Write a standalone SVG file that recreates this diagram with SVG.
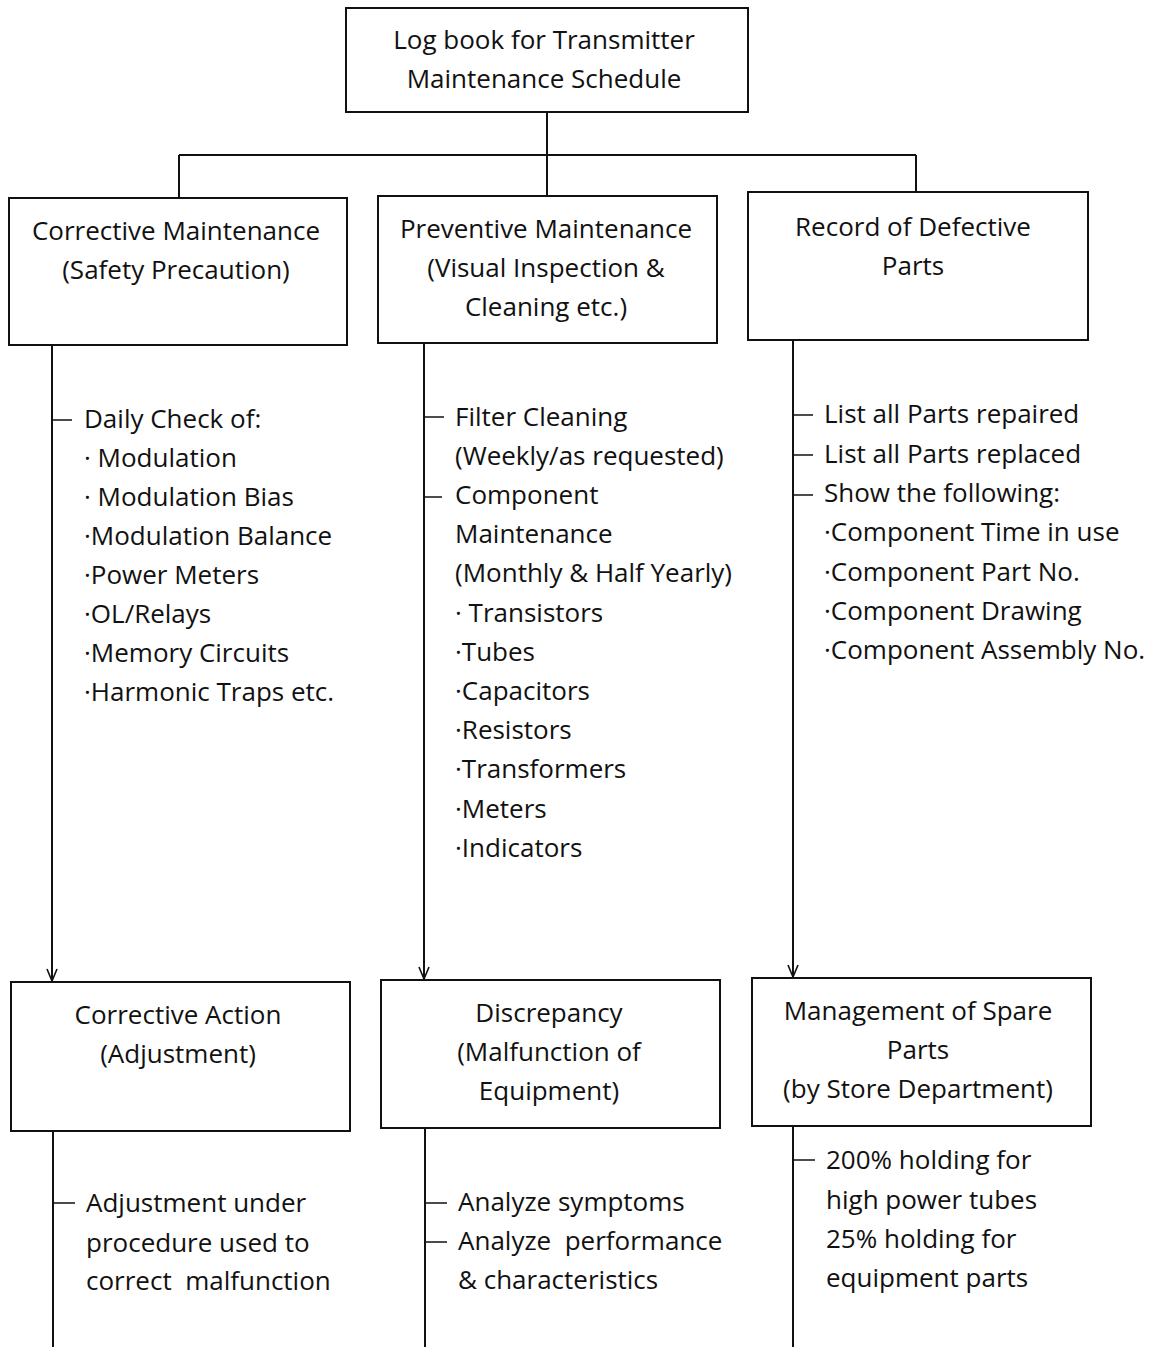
<svg xmlns="http://www.w3.org/2000/svg" width="1152" height="1347" viewBox="0 0 1152 1347">
  <style>
    .box { fill: #ffffff; stroke: #111111; stroke-width: 2; }
    .wire { fill: none; stroke: #111111; stroke-width: 2; }
    .tick { fill: none; stroke: #111111; stroke-width: 1.5; }
    text { font-family: "Open Sans", "Noto Sans", "Liberation Sans", sans-serif; font-size: 26px; fill: #111111; }
    .c { text-anchor: middle; }
  </style>
  <defs>
    <!-- open chevron head; drawn along +x so orient="auto" turns it to the line -->
    <marker id="arrow" viewBox="0 0 14 12" refX="13" refY="6" markerWidth="14" markerHeight="12" markerUnits="userSpaceOnUse" orient="auto">
      <path d="M1,1 L13,6 L1,11" fill="none" stroke="#111111" stroke-width="1.6"/>
    </marker>
  </defs>

  <rect width="1152" height="1347" fill="#ffffff"/>

  <!-- connectors -->
  <g id="connectors">
    <path class="wire" d="M547,112 V196"/>
    <path class="wire" d="M179,155 H916"/>
    <path class="wire" d="M179,155 V198"/>
    <path class="wire" d="M916,155 V192"/>

    <path class="wire" d="M52,345 V981" marker-end="url(#arrow)"/>
    <path class="wire" d="M424,343 V979" marker-end="url(#arrow)"/>
    <path class="wire" d="M793,340 V977" marker-end="url(#arrow)"/>

    <path class="wire" d="M53,1131 V1347"/>
    <path class="wire" d="M425,1128 V1347"/>
    <path class="wire" d="M793,1126 V1347"/>

    <!-- list ticks -->
    <path class="tick" d="M52,420 H72"/>
    <path class="tick" d="M424,417 H444"/>
    <path class="tick" d="M424,497 H442"/>
    <path class="tick" d="M793,415 H813"/>
    <path class="tick" d="M793,455 H813"/>
    <path class="tick" d="M793,495 H813"/>
    <path class="tick" d="M53,1203 H75"/>
    <path class="tick" d="M425,1203 H447"/>
    <path class="tick" d="M425,1242 H447"/>
    <path class="tick" d="M793,1160 H815"/>
  </g>

  <!-- nodes -->
  <g id="log-book">
    <rect class="box" x="346" y="8" width="402" height="104"/>
    <text class="c" x="544" y="49">Log book for Transmitter</text>
    <text class="c" x="544" y="88">Maintenance Schedule</text>
  </g>

  <g id="corrective-maintenance">
    <rect class="box" x="9" y="198" width="338" height="147"/>
    <text class="c" x="176" y="240">Corrective Maintenance</text>
    <text class="c" x="176" y="279">(Safety Precaution)</text>
  </g>

  <g id="preventive-maintenance">
    <rect class="box" x="378" y="196" width="339" height="147"/>
    <text class="c" x="546" y="238">Preventive Maintenance</text>
    <text class="c" x="546" y="277">(Visual Inspection &amp;</text>
    <text class="c" x="546" y="316">Cleaning etc.)</text>
  </g>

  <g id="defective-parts">
    <rect class="box" x="748" y="192" width="340" height="148"/>
    <text class="c" x="913" y="236">Record of Defective</text>
    <text class="c" x="913" y="275">Parts</text>
  </g>

  <g id="daily-check-list">
    <text x="84" y="428">Daily Check of:</text>
    <text x="84" y="467">· Modulation</text>
    <text x="84" y="506">· Modulation Bias</text>
    <text x="84" y="545">·Modulation Balance</text>
    <text x="84" y="584">·Power Meters</text>
    <text x="84" y="623">·OL/Relays</text>
    <text x="84" y="662">·Memory Circuits</text>
    <text x="84" y="701">·Harmonic Traps etc.</text>
  </g>

  <g id="preventive-list">
    <text x="455" y="426">Filter Cleaning</text>
    <text x="455" y="465">(Weekly/as requested)</text>
    <text x="455" y="504">Component</text>
    <text x="455" y="543">Maintenance</text>
    <text x="455" y="582">(Monthly &amp; Half Yearly)</text>
    <text x="455" y="622">· Transistors</text>
    <text x="455" y="661">·Tubes</text>
    <text x="455" y="700">·Capacitors</text>
    <text x="455" y="739">·Resistors</text>
    <text x="455" y="778">·Transformers</text>
    <text x="455" y="818">·Meters</text>
    <text x="455" y="857">·Indicators</text>
  </g>

  <g id="defective-list">
    <text x="824" y="423">List all Parts repaired</text>
    <text x="824" y="463">List all Parts replaced</text>
    <text x="824" y="502">Show the following:</text>
    <text x="824" y="541">·Component Time in use</text>
    <text x="824" y="581">·Component Part No.</text>
    <text x="824" y="620">·Component Drawing</text>
    <text x="824" y="659">·Component Assembly No.</text>
  </g>

  <g id="corrective-action">
    <rect class="box" x="11" y="982" width="339" height="149"/>
    <text class="c" x="178" y="1024">Corrective Action</text>
    <text class="c" x="178" y="1063">(Adjustment)</text>
  </g>

  <g id="discrepancy">
    <rect class="box" x="381" y="980" width="339" height="148"/>
    <text class="c" x="549" y="1022">Discrepancy</text>
    <text class="c" x="549" y="1061">(Malfunction of</text>
    <text class="c" x="549" y="1100">Equipment)</text>
  </g>

  <g id="spare-parts">
    <rect class="box" x="752" y="978" width="339" height="148"/>
    <text class="c" x="918" y="1020">Management of Spare</text>
    <text class="c" x="918" y="1059">Parts</text>
    <text class="c" x="918" y="1098">(by Store Department)</text>
  </g>

  <g id="adjustment-list">
    <text x="86" y="1212">Adjustment under</text>
    <text x="86" y="1252">procedure used to</text>
    <text x="86" y="1290" xml:space="preserve">correct  malfunction</text>
  </g>

  <g id="discrepancy-list">
    <text x="458" y="1211">Analyze symptoms</text>
    <text x="458" y="1250" xml:space="preserve">Analyze  performance</text>
    <text x="458" y="1289">&amp; characteristics</text>
  </g>

  <g id="spare-parts-list">
    <text x="826" y="1169">200% holding for</text>
    <text x="826" y="1209">high power tubes</text>
    <text x="826" y="1248">25% holding for</text>
    <text x="826" y="1287">equipment parts</text>
  </g>
</svg>
